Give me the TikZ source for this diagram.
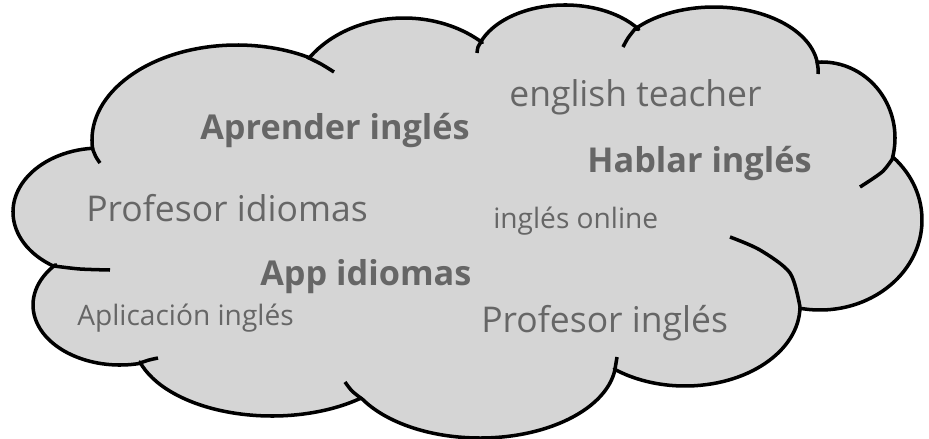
\documentclass[tikz,border=0pt]{standalone}
\usepackage{fontspec}
\setmainfont{Open Sans}
\usetikzlibrary{calc}
\begin{document}
\begin{tikzpicture}[x=0.02cm, y=-0.02cm, line join=round,
    outline/.style={draw=black, line width=2pt},
    word/.style={anchor=base west, inner sep=0pt, text=wordgray},
    big/.style={word, font=\fontsize{20.2}{24}\selectfont},
    small/.style={word, font=\fontsize{16}{19}\selectfont},
    strong/.style={word, font=\bfseries\fontsize{19.5}{23}\selectfont}]
        % ----------- colours -----------
        \definecolor{cloudgray}{HTML}{D5D5D5}
        \definecolor{wordgray}{HTML}{666666}
        \useasboundingbox (0,0) rectangle (929,439);

        % =====================================
        %     cloud outline: one arc per lobe
        %     centre x / centre y / rx / ry / start / end
        % =====================================
        \filldraw[outline, fill=cloudgray] (92.8,149.9)
            \foreach \cx/\cy/\rx/\ry/\sa/\ea in {
                237/140/145/95/174/298.9,     % upper left
                404/110/115/92/214.4/312.9,   % top 1
                565/62/90/57/201.1/325,       % top 2
                714/70/104/63/220.6/352.7,    % top 3
                822/138/73/76/266/375.2,      % upper right
                820/220/102/90/-43.9/101.3,   % right
                685/306/115/80/1/128,         % lower right
                480/360/136/78/7/149.8,       % bottom
                272/340/138/76/50/163.2,      % lower left
                120/305/87/60/76.5/222.3,     % left low
                100/212/87/64/121.8/265.3}    % left
            { -- ($(\cx,\cy)+({\rx*cos(\sa)},{\ry*sin(\sa)})$)
              arc[start angle=\sa, end angle=\ea, x radius=\rx, y radius=\ry] }
            -- cycle;

        % inner arcs
        \draw[outline] plot[smooth] coordinates {(93,150) (96,157) (100,163)};
        \draw[outline] plot[smooth] coordinates {(307,57) (321,64) (334,72)};
        \draw[outline] plot[smooth] coordinates {(481,42) (478,47) (477,53)};
        \draw[outline] plot[smooth] coordinates {(635,29) (628,38) (623,47)};
        \draw[outline] plot[smooth] coordinates {(817,62) (818,68) (818,74)};
        \draw[outline] plot[smooth] coordinates {(893,158) (882,172) (860,187)};
        \draw[outline] plot[smooth] coordinates {(800,307) (790,273) (760,250) (730,237)};
        \draw[outline] plot[smooth] coordinates {(615,369) (616,363) (617,357)};
        \draw[outline] plot[smooth] coordinates {(362,399) (352,391) (345,382)};
        \draw[outline] plot[smooth] coordinates {(140,363) (149,360) (158,358)};
        \draw[outline] plot[smooth] coordinates {(54,266) (80,269) (110,270)};

        % =====================================
        %            keywords
        % =====================================
        \node[big]    (teacher)    at (509,107) {english teacher};
        \node[strong] (aprender)   at (200,139) {Aprender inglés};
        \node[strong] (hablar)     at (587,172) {Hablar inglés};
        \node[big]    (profidioma) at (86,221)  {Profesor idiomas};
        \node[small]  (online)     at (493,228) {inglés online};
        \node[strong] (app)        at (260,285) {App idiomas};
        \node[small]  (aplicacion) at (77,325)  {Aplicación inglés};
        \node[big]    (profingles) at (481,332) {Profesor inglés};
\end{tikzpicture}
\end{document}
